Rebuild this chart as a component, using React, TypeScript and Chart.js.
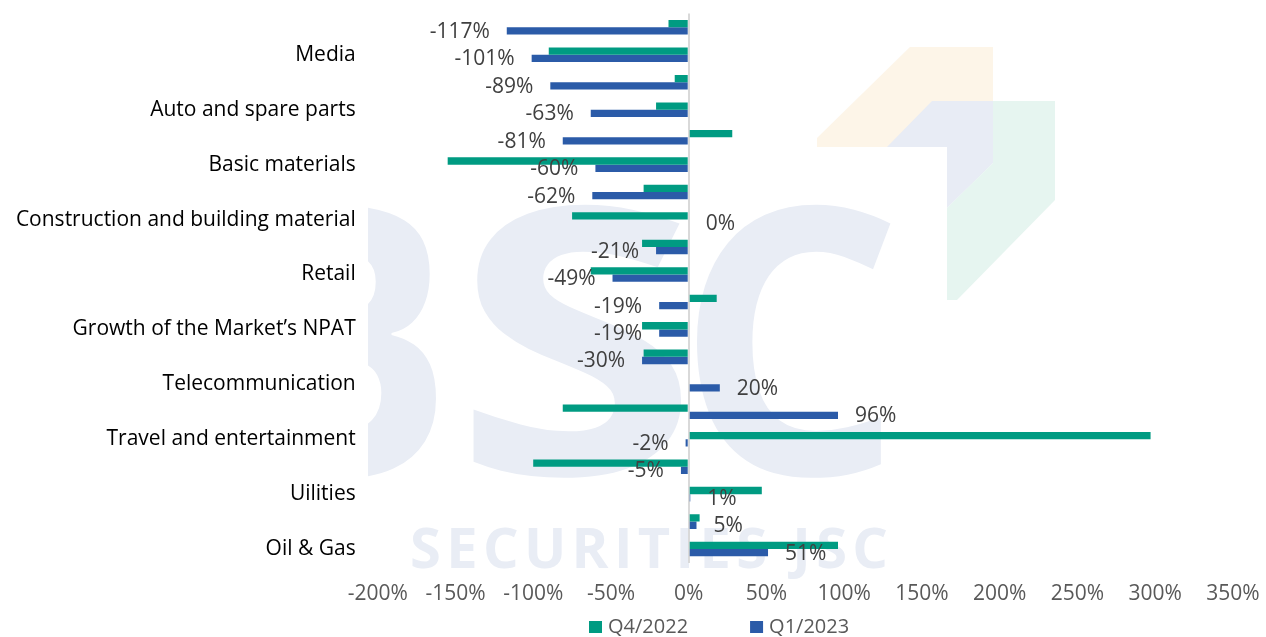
import React, { useEffect, useRef } from "react";
import { Chart, registerables } from "chart.js";

Chart.register(...registerables);

// ---- Data ----
const categories = [
  "",
  "Media",
  "",
  "Auto and spare parts",
  "",
  "Basic materials",
  "",
  "Construction and building material",
  "",
  "Retail",
  "",
  "Growth of the Market’s NPAT",
  "",
  "Telecommunication",
  "",
  "Travel and entertainment",
  "",
  "Uilities",
  "",
  "Oil & Gas",
];
const seriesNames = ["Q4/2022", "Q1/2023"];
const q4_2022 = [-13, -90, -9, -21, 28, -155, -29, -75, -30, -63, 18, -30, -29, 0, -81, 297, -100, 47, 7, 96];
const q1_2023 = [-117, -101, -89, -63, -81, -60, -62, 0, -21, -49, -19, -19, -30, 20, 96, -2, -5, 1, 5, 51];
const xMin = -200;
const xMax = 350;
const xStep = 50;

const TEAL = "#009B82";
const BLUE = "#2B5BA8";
const WM = "#e9edf5";
const FONT = "'Open Sans', 'Noto Sans', sans-serif";

function drawFitted(ctx: CanvasRenderingContext2D, text: string, font: string, x0: number, y0: number, x1: number, y1: number) {
  ctx.save();
  ctx.font = font;
  ctx.textAlign = "left";
  ctx.textBaseline = "alphabetic";
  const m = ctx.measureText(text);
  const inkW = m.actualBoundingBoxLeft + m.actualBoundingBoxRight;
  const inkH = m.actualBoundingBoxAscent + m.actualBoundingBoxDescent;
  ctx.translate(x0, y0);
  ctx.scale((x1 - x0) / inkW, (y1 - y0) / inkH);
  ctx.fillText(text, m.actualBoundingBoxLeft, m.actualBoundingBoxAscent);
  ctx.restore();
}

const watermarkPlugin = {
  id: "watermark",
  beforeDraw(chart: any) {
    const ctx: CanvasRenderingContext2D = chart.ctx;
    ctx.save();
    ctx.fillStyle = "#ffffff";
    ctx.fillRect(0, 0, chart.width, chart.height);
    // logo shapes
    ctx.fillStyle = "#fdf5e8";
    ctx.beginPath();
    ctx.moveTo(910, 47);
    ctx.lineTo(993, 47);
    ctx.lineTo(993, 163);
    ctx.lineTo(947, 147);
    ctx.lineTo(817, 147);
    ctx.lineTo(817, 138);
    ctx.closePath();
    ctx.fill();
    ctx.fillStyle = "#e8ecf5";
    ctx.beginPath();
    ctx.moveTo(932, 101);
    ctx.lineTo(993, 101);
    ctx.lineTo(993, 163);
    ctx.lineTo(947, 208);
    ctx.lineTo(947, 147);
    ctx.lineTo(887, 147);
    ctx.closePath();
    ctx.fill();
    ctx.fillStyle = "#e6f5f0";
    ctx.beginPath();
    ctx.moveTo(993, 101);
    ctx.lineTo(1055, 101);
    ctx.lineTo(1055, 200);
    ctx.lineTo(957, 300);
    ctx.lineTo(947, 300);
    ctx.lineTo(947, 208);
    ctx.lineTo(993, 163);
    ctx.closePath();
    ctx.fill();
    // big letters
    ctx.beginPath();
    ctx.rect(368, 0, chart.width - 368, chart.height);
    ctx.clip();
    ctx.fillStyle = WM;
    const big = `bold 380px ${FONT}`;
    drawFitted(ctx, "B", big, 248, 203, 438, 478);
    drawFitted(ctx, "S", big, 467, 201, 683, 480);
    drawFitted(ctx, "C", big, 693, 201, 893, 480);
    // SECURITIES JSC
    const txt = "SECURITIES JSC";
    ctx.font = `bold 56px ${FONT}`;
    ctx.textBaseline = "alphabetic";
    ctx.textAlign = "left";
    const advs = txt.split("").map((c) => ctx.measureText(c).width);
    const sum = advs.reduce((a, b) => a + b, 0);
    const spacing = (478 - sum) / (txt.length - 1);
    let x = 410;
    txt.split("").forEach((c, i) => {
      ctx.fillText(c, x, 568);
      x += advs[i] + spacing;
    });
    ctx.restore();
  },
};

const dataLabelPlugin = {
  id: "dataLabels",
  afterDatasetsDraw(chart: any) {
    const ctx: CanvasRenderingContext2D = chart.ctx;
    const meta = chart.getDatasetMeta(1);
    const data = chart.data.datasets[1].data as number[];
    ctx.save();
    ctx.font = `21px ${FONT}`;
    ctx.fillStyle = "#404040";
    ctx.textBaseline = "middle";
    meta.data.forEach((el: any, i: number) => {
      const v = data[i];
      const label = `${Math.round(v)}%`;
      if (v < 0) {
        ctx.textAlign = "right";
        ctx.fillText(label, el.x - 17, el.y + 1);
      } else {
        ctx.textAlign = "left";
        ctx.fillText(label, el.x + 17, el.y + 1);
      }
    });
    ctx.restore();
  },
};

const legendPlugin = {
  id: "customLegend",
  afterDraw(chart: any) {
    const ctx: CanvasRenderingContext2D = chart.ctx;
    ctx.save();
    ctx.font = `20px ${FONT}`;
    ctx.textBaseline = "middle";
    ctx.textAlign = "left";
    const colors = [TEAL, BLUE];
    const y = chart.height - 10;
    let x = 589;
    seriesNames.forEach((name, i) => {
      ctx.fillStyle = colors[i];
      ctx.fillRect(x, y - 6, 13, 12);
      ctx.fillStyle = "#595959";
      ctx.fillText(name, x + 19, y);
      x += 19 + ctx.measureText(name).width + 62;
    });
    ctx.restore();
  },
};

export default function App() {
  const ref = useRef<HTMLCanvasElement>(null);
  useEffect(() => {
    const chart = new Chart(ref.current as HTMLCanvasElement, {
      type: "bar",
      data: {
        labels: categories,
        datasets: [
          { label: seriesNames[0], data: q4_2022, backgroundColor: TEAL, barPercentage: 1, categoryPercentage: 0.53 },
          { label: seriesNames[1], data: q1_2023, backgroundColor: BLUE, barPercentage: 1, categoryPercentage: 0.53 },
        ],
      },
      options: {
        indexAxis: "y",
        animation: false,
        responsive: true,
        maintainAspectRatio: false,
        layout: { padding: { top: 13.6, right: 33, bottom: 11, left: 0 } },
        plugins: {
          legend: { display: false },
          tooltip: { enabled: false },
        },
        scales: {
          x: {
            min: xMin,
            max: xMax,
            afterFit: (scale: any) => {
              scale.paddingTop = 0;
              scale.paddingBottom = 0;
              scale.paddingLeft = 0;
              scale.paddingRight = 0;
            },
            ticks: {
              stepSize: xStep,
              padding: 19,
              color: "#595959",
              font: { family: FONT, size: 21 },
              callback: (v: any) => `${v}%`,
            },
            grid: {
              drawTicks: false,
              color: (c: any) => (c.tick && c.tick.value === 0 ? "#d9d9d9" : "rgba(0,0,0,0)"),
              lineWidth: 2,
            },
            border: { display: false },
          },
          y: {
            afterFit: (scale: any) => {
              scale.width = 377.7;
              scale.paddingTop = 0;
              scale.paddingBottom = 0;
            },
            ticks: {
              autoSkip: false,
              padding: 22,
              color: "#000000",
              font: { family: FONT, size: 21 },
            },
            grid: { display: false, drawTicks: false },
            border: { display: false },
          },
        },
      },
      plugins: [watermarkPlugin, dataLabelPlugin, legendPlugin],
    });
    return () => chart.destroy();
  }, []);
  return (
    <div style={{ position: "fixed", left: 0, top: 0, width: 1266, height: 637, background: "#fff" }}>
      <canvas ref={ref} />
    </div>
  );
}
